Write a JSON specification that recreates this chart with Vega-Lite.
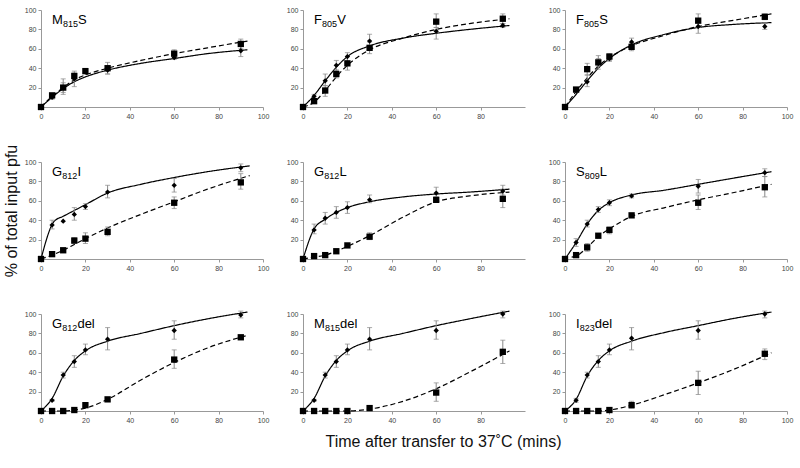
{
"$schema": "https://vega.github.io/schema/vega-lite/v6.json",
"background": "white",
"padding": {"left": 3, "top": 6, "right": 2, "bottom": 2},
"columns": 3,
"spacing": {"row": 55, "column": 40},
"bounds": "flush",
"datasets": {
"pts": [
{"p":1,"s":"A","t":0,"v":0},{"p":1,"s":"A","t":5,"v":10,"lo":8,"hi":12},{"p":1,"s":"A","t":10,"v":20,"lo":15,"hi":25},{"p":1,"s":"A","t":15,"v":29,"lo":21,"hi":35},{"p":1,"s":"A","t":20,"v":36},{"p":1,"s":"A","t":30,"v":38,"lo":34,"hi":42},{"p":1,"s":"A","t":60,"v":51,"lo":49,"hi":53},{"p":1,"s":"A","t":90,"v":58,"lo":52,"hi":63},
{"p":1,"s":"B","t":0,"v":0},{"p":1,"s":"B","t":5,"v":12,"lo":10,"hi":14},{"p":1,"s":"B","t":10,"v":20,"lo":13,"hi":29},{"p":1,"s":"B","t":15,"v":32,"lo":28,"hi":37},{"p":1,"s":"B","t":20,"v":37,"lo":35,"hi":39},{"p":1,"s":"B","t":30,"v":40,"lo":34,"hi":46},{"p":1,"s":"B","t":60,"v":55,"lo":52,"hi":59},{"p":1,"s":"B","t":90,"v":65,"lo":60,"hi":70},
{"p":2,"s":"A","t":0,"v":0},{"p":2,"s":"A","t":5,"v":11,"lo":9,"hi":13},{"p":2,"s":"A","t":10,"v":27,"lo":22,"hi":34},{"p":2,"s":"A","t":15,"v":43,"lo":38,"hi":48},{"p":2,"s":"A","t":20,"v":52,"lo":47,"hi":56},{"p":2,"s":"A","t":30,"v":68,"lo":62,"hi":75},{"p":2,"s":"A","t":60,"v":78,"lo":70,"hi":82},{"p":2,"s":"A","t":90,"v":84,"lo":82,"hi":86},
{"p":2,"s":"B","t":0,"v":0},{"p":2,"s":"B","t":5,"v":6,"lo":4,"hi":8},{"p":2,"s":"B","t":10,"v":17,"lo":11,"hi":22},{"p":2,"s":"B","t":15,"v":34,"lo":30,"hi":38},{"p":2,"s":"B","t":20,"v":45,"lo":38,"hi":52},{"p":2,"s":"B","t":30,"v":61,"lo":55,"hi":67},{"p":2,"s":"B","t":60,"v":88,"lo":82,"hi":96},{"p":2,"s":"B","t":90,"v":91,"lo":86,"hi":96},
{"p":3,"s":"A","t":0,"v":0},{"p":3,"s":"A","t":5,"v":17,"lo":15,"hi":19},{"p":3,"s":"A","t":10,"v":26,"lo":21,"hi":33},{"p":3,"s":"A","t":15,"v":45,"lo":39,"hi":50},{"p":3,"s":"A","t":20,"v":50,"lo":47,"hi":53},{"p":3,"s":"A","t":30,"v":67,"lo":63,"hi":71},{"p":3,"s":"A","t":60,"v":83,"lo":76,"hi":87},{"p":3,"s":"A","t":90,"v":83,"lo":80,"hi":87},
{"p":3,"s":"B","t":0,"v":0},{"p":3,"s":"B","t":5,"v":18,"lo":16,"hi":20},{"p":3,"s":"B","t":10,"v":39,"lo":33,"hi":45},{"p":3,"s":"B","t":15,"v":46,"lo":42,"hi":53},{"p":3,"s":"B","t":20,"v":52,"lo":48,"hi":55},{"p":3,"s":"B","t":30,"v":62,"lo":58,"hi":66},{"p":3,"s":"B","t":60,"v":89,"lo":82,"hi":96},{"p":3,"s":"B","t":90,"v":93,"lo":90,"hi":96},
{"p":4,"s":"A","t":0,"v":0},{"p":4,"s":"A","t":5,"v":35,"lo":31,"hi":40},{"p":4,"s":"A","t":10,"v":39},{"p":4,"s":"A","t":15,"v":46,"lo":40,"hi":53},{"p":4,"s":"A","t":20,"v":54,"lo":51,"hi":57},{"p":4,"s":"A","t":30,"v":69,"lo":63,"hi":76},{"p":4,"s":"A","t":60,"v":76,"lo":69,"hi":83},{"p":4,"s":"A","t":90,"v":94,"lo":90,"hi":98},
{"p":4,"s":"B","t":0,"v":0},{"p":4,"s":"B","t":5,"v":5},{"p":4,"s":"B","t":10,"v":9,"lo":8,"hi":11},{"p":4,"s":"B","t":15,"v":19,"lo":16,"hi":22},{"p":4,"s":"B","t":20,"v":21,"lo":16,"hi":27},{"p":4,"s":"B","t":30,"v":28,"lo":24,"hi":33},{"p":4,"s":"B","t":60,"v":58,"lo":52,"hi":64},{"p":4,"s":"B","t":90,"v":79,"lo":72,"hi":88},
{"p":5,"s":"A","t":0,"v":0},{"p":5,"s":"A","t":5,"v":30,"lo":26,"hi":36},{"p":5,"s":"A","t":10,"v":42,"lo":36,"hi":48},{"p":5,"s":"A","t":15,"v":48,"lo":42,"hi":54},{"p":5,"s":"A","t":20,"v":53,"lo":47,"hi":59},{"p":5,"s":"A","t":30,"v":61,"lo":58,"hi":66},{"p":5,"s":"A","t":60,"v":68,"lo":64,"hi":74},{"p":5,"s":"A","t":90,"v":70,"lo":66,"hi":76},
{"p":5,"s":"B","t":0,"v":0},{"p":5,"s":"B","t":5,"v":3},{"p":5,"s":"B","t":10,"v":4},{"p":5,"s":"B","t":15,"v":8,"lo":7,"hi":9},{"p":5,"s":"B","t":20,"v":14,"lo":13,"hi":15},{"p":5,"s":"B","t":30,"v":23,"lo":20,"hi":27},{"p":5,"s":"B","t":60,"v":61,"lo":59,"hi":63},{"p":5,"s":"B","t":90,"v":62,"lo":53,"hi":72},
{"p":6,"s":"A","t":0,"v":0},{"p":6,"s":"A","t":5,"v":17,"lo":13,"hi":21},{"p":6,"s":"A","t":10,"v":36,"lo":33,"hi":40},{"p":6,"s":"A","t":15,"v":51,"lo":48,"hi":54},{"p":6,"s":"A","t":20,"v":58,"lo":55,"hi":61},{"p":6,"s":"A","t":30,"v":65,"lo":63,"hi":67},{"p":6,"s":"A","t":60,"v":75,"lo":68,"hi":82},{"p":6,"s":"A","t":90,"v":89,"lo":85,"hi":93},
{"p":6,"s":"B","t":0,"v":0},{"p":6,"s":"B","t":5,"v":4},{"p":6,"s":"B","t":10,"v":12,"lo":8,"hi":16},{"p":6,"s":"B","t":15,"v":24,"lo":22,"hi":26},{"p":6,"s":"B","t":20,"v":30,"lo":26,"hi":33},{"p":6,"s":"B","t":30,"v":45,"lo":43,"hi":47},{"p":6,"s":"B","t":60,"v":58,"lo":51,"hi":66},{"p":6,"s":"B","t":90,"v":74,"lo":64,"hi":85},
{"p":7,"s":"A","t":0,"v":0},{"p":7,"s":"A","t":5,"v":11,"lo":10,"hi":12},{"p":7,"s":"A","t":10,"v":37,"lo":34,"hi":40},{"p":7,"s":"A","t":15,"v":51,"lo":45,"hi":57},{"p":7,"s":"A","t":20,"v":63,"lo":58,"hi":69},{"p":7,"s":"A","t":30,"v":74,"lo":63,"hi":86},{"p":7,"s":"A","t":60,"v":83,"lo":74,"hi":93},{"p":7,"s":"A","t":90,"v":99,"lo":96,"hi":103},
{"p":7,"s":"B","t":0,"v":0},{"p":7,"s":"B","t":5,"v":0},{"p":7,"s":"B","t":10,"v":0},{"p":7,"s":"B","t":15,"v":1},{"p":7,"s":"B","t":20,"v":6},{"p":7,"s":"B","t":30,"v":12},{"p":7,"s":"B","t":60,"v":53,"lo":44,"hi":63},{"p":7,"s":"B","t":90,"v":76,"lo":74,"hi":78},
{"p":8,"s":"A","t":0,"v":0},{"p":8,"s":"A","t":5,"v":11,"lo":10,"hi":12},{"p":8,"s":"A","t":10,"v":37,"lo":34,"hi":40},{"p":8,"s":"A","t":15,"v":51,"lo":45,"hi":57},{"p":8,"s":"A","t":20,"v":63,"lo":58,"hi":69},{"p":8,"s":"A","t":30,"v":74,"lo":63,"hi":86},{"p":8,"s":"A","t":60,"v":83,"lo":74,"hi":93},{"p":8,"s":"A","t":90,"v":100,"lo":96,"hi":103},
{"p":8,"s":"B","t":0,"v":0},{"p":8,"s":"B","t":5,"v":0},{"p":8,"s":"B","t":10,"v":0},{"p":8,"s":"B","t":15,"v":0},{"p":8,"s":"B","t":20,"v":0},{"p":8,"s":"B","t":30,"v":3,"lo":2,"hi":4},{"p":8,"s":"B","t":60,"v":19,"lo":10,"hi":29},{"p":8,"s":"B","t":90,"v":61,"lo":49,"hi":73},
{"p":9,"s":"A","t":0,"v":0},{"p":9,"s":"A","t":5,"v":11,"lo":9,"hi":13},{"p":9,"s":"A","t":10,"v":37,"lo":34,"hi":40},{"p":9,"s":"A","t":15,"v":51,"lo":45,"hi":57},{"p":9,"s":"A","t":20,"v":63,"lo":58,"hi":69},{"p":9,"s":"A","t":30,"v":75,"lo":63,"hi":86},{"p":9,"s":"A","t":60,"v":83,"lo":74,"hi":93},{"p":9,"s":"A","t":90,"v":100,"lo":96,"hi":103},
{"p":9,"s":"B","t":0,"v":0},{"p":9,"s":"B","t":5,"v":0},{"p":9,"s":"B","t":10,"v":0},{"p":9,"s":"B","t":15,"v":0},{"p":9,"s":"B","t":20,"v":1},{"p":9,"s":"B","t":30,"v":6,"lo":3,"hi":10},{"p":9,"s":"B","t":60,"v":29,"lo":17,"hi":41},{"p":9,"s":"B","t":90,"v":59,"lo":53,"hi":64}
],
"fit": [
{"p":1,"s":"A","t":0,"v":0},{"p":1,"s":"A","t":5,"v":10},{"p":1,"s":"A","t":10,"v":19},{"p":1,"s":"A","t":15,"v":26},{"p":1,"s":"A","t":20,"v":31},{"p":1,"s":"A","t":30,"v":38},{"p":1,"s":"A","t":45,"v":45},{"p":1,"s":"A","t":60,"v":50},{"p":1,"s":"A","t":75,"v":55},{"p":1,"s":"A","t":93,"v":59},
{"p":1,"s":"B","t":0,"v":0},{"p":1,"s":"B","t":5,"v":11},{"p":1,"s":"B","t":10,"v":20},{"p":1,"s":"B","t":15,"v":28},{"p":1,"s":"B","t":20,"v":33},{"p":1,"s":"B","t":30,"v":40},{"p":1,"s":"B","t":45,"v":48},{"p":1,"s":"B","t":60,"v":55},{"p":1,"s":"B","t":75,"v":61},{"p":1,"s":"B","t":93,"v":68},
{"p":2,"s":"A","t":0,"v":0},{"p":2,"s":"A","t":5,"v":12},{"p":2,"s":"A","t":10,"v":27},{"p":2,"s":"A","t":15,"v":41},{"p":2,"s":"A","t":20,"v":52},{"p":2,"s":"A","t":30,"v":63},{"p":2,"s":"A","t":45,"v":71},{"p":2,"s":"A","t":60,"v":76},{"p":2,"s":"A","t":75,"v":80},{"p":2,"s":"A","t":93,"v":84},
{"p":2,"s":"B","t":0,"v":0},{"p":2,"s":"B","t":5,"v":5},{"p":2,"s":"B","t":10,"v":17},{"p":2,"s":"B","t":15,"v":31},{"p":2,"s":"B","t":20,"v":43},{"p":2,"s":"B","t":30,"v":59},{"p":2,"s":"B","t":45,"v":71},{"p":2,"s":"B","t":60,"v":80},{"p":2,"s":"B","t":75,"v":86},{"p":2,"s":"B","t":93,"v":91},
{"p":3,"s":"A","t":0,"v":0},{"p":3,"s":"A","t":5,"v":13},{"p":3,"s":"A","t":10,"v":27},{"p":3,"s":"A","t":15,"v":40},{"p":3,"s":"A","t":20,"v":50},{"p":3,"s":"A","t":30,"v":64},{"p":3,"s":"A","t":45,"v":75},{"p":3,"s":"A","t":60,"v":82},{"p":3,"s":"A","t":75,"v":85},{"p":3,"s":"A","t":93,"v":87},
{"p":3,"s":"B","t":0,"v":0},{"p":3,"s":"B","t":5,"v":16},{"p":3,"s":"B","t":10,"v":30},{"p":3,"s":"B","t":15,"v":42},{"p":3,"s":"B","t":20,"v":51},{"p":3,"s":"B","t":30,"v":63},{"p":3,"s":"B","t":45,"v":74},{"p":3,"s":"B","t":60,"v":83},{"p":3,"s":"B","t":75,"v":89},{"p":3,"s":"B","t":93,"v":96},
{"p":4,"s":"A","t":0,"v":0},{"p":4,"s":"A","t":6,"v":39},{"p":4,"s":"A","t":10,"v":44},{"p":4,"s":"A","t":15,"v":50},{"p":4,"s":"A","t":20,"v":56},{"p":4,"s":"A","t":30,"v":68},{"p":4,"s":"A","t":45,"v":77},{"p":4,"s":"A","t":60,"v":84},{"p":4,"s":"A","t":75,"v":90},{"p":4,"s":"A","t":94,"v":96},
{"p":4,"s":"B","t":0,"v":0},{"p":4,"s":"B","t":5,"v":4},{"p":4,"s":"B","t":10,"v":9},{"p":4,"s":"B","t":15,"v":15},{"p":4,"s":"B","t":20,"v":21},{"p":4,"s":"B","t":30,"v":32},{"p":4,"s":"B","t":45,"v":46},{"p":4,"s":"B","t":60,"v":59},{"p":4,"s":"B","t":75,"v":72},{"p":4,"s":"B","t":94,"v":86},
{"p":5,"s":"A","t":0,"v":0},{"p":5,"s":"A","t":5,"v":31},{"p":5,"s":"A","t":10,"v":41},{"p":5,"s":"A","t":15,"v":48},{"p":5,"s":"A","t":20,"v":53},{"p":5,"s":"A","t":30,"v":59},{"p":5,"s":"A","t":45,"v":64},{"p":5,"s":"A","t":60,"v":67},{"p":5,"s":"A","t":75,"v":69},{"p":5,"s":"A","t":93,"v":72},
{"p":5,"s":"B","t":0,"v":0},{"p":5,"s":"B","t":5,"v":2},{"p":5,"s":"B","t":10,"v":4},{"p":5,"s":"B","t":15,"v":8},{"p":5,"s":"B","t":20,"v":13},{"p":5,"s":"B","t":30,"v":24},{"p":5,"s":"B","t":45,"v":43},{"p":5,"s":"B","t":60,"v":59},{"p":5,"s":"B","t":75,"v":65},{"p":5,"s":"B","t":93,"v":69},
{"p":6,"s":"A","t":0,"v":0},{"p":6,"s":"A","t":5,"v":17},{"p":6,"s":"A","t":10,"v":36},{"p":6,"s":"A","t":15,"v":50},{"p":6,"s":"A","t":20,"v":58},{"p":6,"s":"A","t":30,"v":66},{"p":6,"s":"A","t":45,"v":71},{"p":6,"s":"A","t":60,"v":77},{"p":6,"s":"A","t":75,"v":83},{"p":6,"s":"A","t":93,"v":90},
{"p":6,"s":"B","t":3,"v":2},{"p":6,"s":"B","t":5,"v":3},{"p":6,"s":"B","t":10,"v":12},{"p":6,"s":"B","t":15,"v":23},{"p":6,"s":"B","t":20,"v":31},{"p":6,"s":"B","t":30,"v":44},{"p":6,"s":"B","t":45,"v":53},{"p":6,"s":"B","t":60,"v":61},{"p":6,"s":"B","t":75,"v":68},{"p":6,"s":"B","t":93,"v":77},
{"p":7,"s":"A","t":0,"v":0},{"p":7,"s":"A","t":5,"v":13},{"p":7,"s":"A","t":10,"v":36},{"p":7,"s":"A","t":15,"v":52},{"p":7,"s":"A","t":20,"v":62},{"p":7,"s":"A","t":30,"v":72},{"p":7,"s":"A","t":45,"v":80},{"p":7,"s":"A","t":60,"v":88},{"p":7,"s":"A","t":75,"v":95},{"p":7,"s":"A","t":93,"v":102},
{"p":7,"s":"B","t":0,"v":0},{"p":7,"s":"B","t":5,"v":0},{"p":7,"s":"B","t":10,"v":0},{"p":7,"s":"B","t":15,"v":1},{"p":7,"s":"B","t":20,"v":3},{"p":7,"s":"B","t":30,"v":12},{"p":7,"s":"B","t":45,"v":32},{"p":7,"s":"B","t":60,"v":50},{"p":7,"s":"B","t":75,"v":65},{"p":7,"s":"B","t":93,"v":78},
{"p":8,"s":"A","t":0,"v":0},{"p":8,"s":"A","t":5,"v":13},{"p":8,"s":"A","t":10,"v":36},{"p":8,"s":"A","t":15,"v":52},{"p":8,"s":"A","t":20,"v":62},{"p":8,"s":"A","t":30,"v":72},{"p":8,"s":"A","t":45,"v":80},{"p":8,"s":"A","t":60,"v":88},{"p":8,"s":"A","t":75,"v":95},{"p":8,"s":"A","t":93,"v":103},
{"p":8,"s":"B","t":0,"v":0},{"p":8,"s":"B","t":5,"v":0},{"p":8,"s":"B","t":10,"v":0},{"p":8,"s":"B","t":15,"v":0},{"p":8,"s":"B","t":20,"v":0},{"p":8,"s":"B","t":30,"v":2},{"p":8,"s":"B","t":45,"v":10},{"p":8,"s":"B","t":60,"v":23},{"p":8,"s":"B","t":75,"v":40},{"p":8,"s":"B","t":93,"v":62},
{"p":9,"s":"A","t":0,"v":0},{"p":9,"s":"A","t":5,"v":12},{"p":9,"s":"A","t":10,"v":36},{"p":9,"s":"A","t":15,"v":52},{"p":9,"s":"A","t":20,"v":62},{"p":9,"s":"A","t":30,"v":72},{"p":9,"s":"A","t":45,"v":81},{"p":9,"s":"A","t":60,"v":88},{"p":9,"s":"A","t":75,"v":95},{"p":9,"s":"A","t":93,"v":102},
{"p":9,"s":"B","t":0,"v":0},{"p":9,"s":"B","t":5,"v":0},{"p":9,"s":"B","t":10,"v":0},{"p":9,"s":"B","t":15,"v":0},{"p":9,"s":"B","t":20,"v":1},{"p":9,"s":"B","t":30,"v":6},{"p":9,"s":"B","t":45,"v":17},{"p":9,"s":"B","t":60,"v":29},{"p":9,"s":"B","t":75,"v":42},{"p":9,"s":"B","t":93,"v":60}
],
"lab": [
{"p":1,"a":"M","b":"815","c":"S"},{"p":2,"a":"F","b":"805","c":"V"},{"p":3,"a":"F","b":"805","c":"S"},
{"p":4,"a":"G","b":"812","c":"I"},{"p":5,"a":"G","b":"812","c":"L"},{"p":6,"a":"S","b":"809","c":"L"},
{"p":7,"a":"G","b":"812","c":"del"},{"p":8,"a":"M","b":"815","c":"del"},{"p":9,"a":"I","b":"823","c":"del"}
]
},
"concat": [
{"width":222,"height":97,"layer":[
{"data":{"name":"fit"},"transform":[{"filter":"datum.p==1"}],"mark":{"type":"line","color":"black","strokeWidth":1.2,"interpolate":"monotone"},"encoding":{"x":{"field":"t","type":"quantitative","title":null,"scale":{"domain":[0,100],"nice":false},"axis":{"values":[0,20,40,60,80,100],"tickCount":10}},"y":{"field":"v","type":"quantitative","title":null,"scale":{"domain":[0,100],"nice":false},"axis":{"values":[20,40,60,80,100],"tickCount":10}},"strokeDash":{"field":"s","type":"nominal","scale":{"domain":["A","B"],"range":[[1,0],[5,3]]},"legend":null}}},
{"data":{"name":"pts"},"transform":[{"filter":"datum.p==1 && isValid(datum.lo)"}],"mark":{"type":"errorbar","ticks":true,"color":"#888"},"encoding":{"x":{"field":"t","type":"quantitative","title":null},"y":{"field":"lo","type":"quantitative","title":null,"scale":{"domain":[0,100],"nice":false}},"y2":{"field":"hi"}}},
{"data":{"name":"pts"},"transform":[{"filter":"datum.p==1"}],"mark":{"type":"point","filled":true,"opacity":1,"color":"black"},"encoding":{"x":{"field":"t","type":"quantitative","title":null},"y":{"field":"v","type":"quantitative","title":null,"scale":{"domain":[0,100],"nice":false}},"shape":{"field":"s","type":"nominal","scale":{"domain":["A","B"],"range":["diamond","square"]},"legend":null},"size":{"field":"s","type":"nominal","scale":{"domain":["A","B"],"range":[28,40]},"legend":null}}},
{"data":{"name":"lab"},"transform":[{"filter":"datum.p==1"}],"mark":{"type":"text","align":"left","baseline":"alphabetic","fontSize":13},"encoding":{"x":{"datum":5},"y":{"datum":86},"text":{"field":"a"}}},
{"data":{"name":"lab"},"transform":[{"filter":"datum.p==1"}],"mark":{"type":"text","align":"left","baseline":"alphabetic","fontSize":9},"encoding":{"x":{"datum":9.9},"y":{"datum":82},"text":{"field":"b"}}},
{"data":{"name":"lab"},"transform":[{"filter":"datum.p==1"}],"mark":{"type":"text","align":"left","baseline":"alphabetic","fontSize":13},"encoding":{"x":{"datum":16.7},"y":{"datum":86},"text":{"field":"c"}}}
]},
{"width":222,"height":97,"layer":[
{"data":{"name":"fit"},"transform":[{"filter":"datum.p==2"}],"mark":{"type":"line","color":"black","strokeWidth":1.2,"interpolate":"monotone"},"encoding":{"x":{"field":"t","type":"quantitative","title":null,"scale":{"domain":[0,100],"nice":false},"axis":{"values":[0,20,40,60,80],"tickCount":10}},"y":{"field":"v","type":"quantitative","title":null,"scale":{"domain":[0,100],"nice":false},"axis":{"values":[20,40,60,80,100],"tickCount":10}},"strokeDash":{"field":"s","type":"nominal","scale":{"domain":["A","B"],"range":[[1,0],[5,3]]},"legend":null}}},
{"data":{"name":"pts"},"transform":[{"filter":"datum.p==2 && isValid(datum.lo)"}],"mark":{"type":"errorbar","ticks":true,"color":"#888"},"encoding":{"x":{"field":"t","type":"quantitative","title":null},"y":{"field":"lo","type":"quantitative","title":null,"scale":{"domain":[0,100],"nice":false}},"y2":{"field":"hi"}}},
{"data":{"name":"pts"},"transform":[{"filter":"datum.p==2"}],"mark":{"type":"point","filled":true,"opacity":1,"color":"black"},"encoding":{"x":{"field":"t","type":"quantitative","title":null},"y":{"field":"v","type":"quantitative","title":null,"scale":{"domain":[0,100],"nice":false}},"shape":{"field":"s","type":"nominal","scale":{"domain":["A","B"],"range":["diamond","square"]},"legend":null},"size":{"field":"s","type":"nominal","scale":{"domain":["A","B"],"range":[28,40]},"legend":null}}},
{"data":{"name":"lab"},"transform":[{"filter":"datum.p==2"}],"mark":{"type":"text","align":"left","baseline":"alphabetic","fontSize":13},"encoding":{"x":{"datum":5},"y":{"datum":86},"text":{"field":"a"}}},
{"data":{"name":"lab"},"transform":[{"filter":"datum.p==2"}],"mark":{"type":"text","align":"left","baseline":"alphabetic","fontSize":9},"encoding":{"x":{"datum":8.6},"y":{"datum":82},"text":{"field":"b"}}},
{"data":{"name":"lab"},"transform":[{"filter":"datum.p==2"}],"mark":{"type":"text","align":"left","baseline":"alphabetic","fontSize":13},"encoding":{"x":{"datum":15.4},"y":{"datum":86},"text":{"field":"c"}}}
]},
{"width":222,"height":97,"layer":[
{"data":{"name":"fit"},"transform":[{"filter":"datum.p==3"}],"mark":{"type":"line","color":"black","strokeWidth":1.2,"interpolate":"monotone"},"encoding":{"x":{"field":"t","type":"quantitative","title":null,"scale":{"domain":[0,100],"nice":false},"axis":{"values":[0,20,40,60,80,100],"tickCount":10}},"y":{"field":"v","type":"quantitative","title":null,"scale":{"domain":[0,100],"nice":false},"axis":{"values":[20,40,60,80,100],"tickCount":10}},"strokeDash":{"field":"s","type":"nominal","scale":{"domain":["A","B"],"range":[[1,0],[5,3]]},"legend":null}}},
{"data":{"name":"pts"},"transform":[{"filter":"datum.p==3 && isValid(datum.lo)"}],"mark":{"type":"errorbar","ticks":true,"color":"#888"},"encoding":{"x":{"field":"t","type":"quantitative","title":null},"y":{"field":"lo","type":"quantitative","title":null,"scale":{"domain":[0,100],"nice":false}},"y2":{"field":"hi"}}},
{"data":{"name":"pts"},"transform":[{"filter":"datum.p==3"}],"mark":{"type":"point","filled":true,"opacity":1,"color":"black"},"encoding":{"x":{"field":"t","type":"quantitative","title":null},"y":{"field":"v","type":"quantitative","title":null,"scale":{"domain":[0,100],"nice":false}},"shape":{"field":"s","type":"nominal","scale":{"domain":["A","B"],"range":["diamond","square"]},"legend":null},"size":{"field":"s","type":"nominal","scale":{"domain":["A","B"],"range":[28,40]},"legend":null}}},
{"data":{"name":"lab"},"transform":[{"filter":"datum.p==3"}],"mark":{"type":"text","align":"left","baseline":"alphabetic","fontSize":13},"encoding":{"x":{"datum":5},"y":{"datum":86},"text":{"field":"a"}}},
{"data":{"name":"lab"},"transform":[{"filter":"datum.p==3"}],"mark":{"type":"text","align":"left","baseline":"alphabetic","fontSize":9},"encoding":{"x":{"datum":8.6},"y":{"datum":82},"text":{"field":"b"}}},
{"data":{"name":"lab"},"transform":[{"filter":"datum.p==3"}],"mark":{"type":"text","align":"left","baseline":"alphabetic","fontSize":13},"encoding":{"x":{"datum":15.4},"y":{"datum":86},"text":{"field":"c"}}}
]},
{"width":222,"height":97,"layer":[
{"data":{"name":"fit"},"transform":[{"filter":"datum.p==4"}],"mark":{"type":"line","color":"black","strokeWidth":1.2,"interpolate":"monotone"},"encoding":{"x":{"field":"t","type":"quantitative","title":null,"scale":{"domain":[0,100],"nice":false},"axis":{"values":[0,20,40,60,80,100],"tickCount":10}},"y":{"field":"v","type":"quantitative","title":"% of total input pfu","scale":{"domain":[0,100],"nice":false},"axis":{"values":[20,40,60,80,100],"tickCount":10,"titlePadding":5}},"strokeDash":{"field":"s","type":"nominal","scale":{"domain":["A","B"],"range":[[1,0],[5,3]]},"legend":null}}},
{"data":{"name":"pts"},"transform":[{"filter":"datum.p==4 && isValid(datum.lo)"}],"mark":{"type":"errorbar","ticks":true,"color":"#888"},"encoding":{"x":{"field":"t","type":"quantitative","title":null},"y":{"field":"lo","type":"quantitative","title":"% of total input pfu","scale":{"domain":[0,100],"nice":false}},"y2":{"field":"hi"}}},
{"data":{"name":"pts"},"transform":[{"filter":"datum.p==4"}],"mark":{"type":"point","filled":true,"opacity":1,"color":"black"},"encoding":{"x":{"field":"t","type":"quantitative","title":null},"y":{"field":"v","type":"quantitative","title":"% of total input pfu","scale":{"domain":[0,100],"nice":false}},"shape":{"field":"s","type":"nominal","scale":{"domain":["A","B"],"range":["diamond","square"]},"legend":null},"size":{"field":"s","type":"nominal","scale":{"domain":["A","B"],"range":[28,40]},"legend":null}}},
{"data":{"name":"lab"},"transform":[{"filter":"datum.p==4"}],"mark":{"type":"text","align":"left","baseline":"alphabetic","fontSize":13},"encoding":{"x":{"datum":5},"y":{"datum":86},"text":{"field":"a"}}},
{"data":{"name":"lab"},"transform":[{"filter":"datum.p==4"}],"mark":{"type":"text","align":"left","baseline":"alphabetic","fontSize":9},"encoding":{"x":{"datum":9.6},"y":{"datum":82},"text":{"field":"b"}}},
{"data":{"name":"lab"},"transform":[{"filter":"datum.p==4"}],"mark":{"type":"text","align":"left","baseline":"alphabetic","fontSize":13},"encoding":{"x":{"datum":16.4},"y":{"datum":86},"text":{"field":"c"}}}
]},
{"width":222,"height":97,"layer":[
{"data":{"name":"fit"},"transform":[{"filter":"datum.p==5"}],"mark":{"type":"line","color":"black","strokeWidth":1.2,"interpolate":"monotone"},"encoding":{"x":{"field":"t","type":"quantitative","title":null,"scale":{"domain":[0,100],"nice":false},"axis":{"values":[0,20,40,60,80],"tickCount":10}},"y":{"field":"v","type":"quantitative","title":null,"scale":{"domain":[0,100],"nice":false},"axis":{"values":[20,40,60,80,100],"tickCount":10}},"strokeDash":{"field":"s","type":"nominal","scale":{"domain":["A","B"],"range":[[1,0],[5,3]]},"legend":null}}},
{"data":{"name":"pts"},"transform":[{"filter":"datum.p==5 && isValid(datum.lo)"}],"mark":{"type":"errorbar","ticks":true,"color":"#888"},"encoding":{"x":{"field":"t","type":"quantitative","title":null},"y":{"field":"lo","type":"quantitative","title":null,"scale":{"domain":[0,100],"nice":false}},"y2":{"field":"hi"}}},
{"data":{"name":"pts"},"transform":[{"filter":"datum.p==5"}],"mark":{"type":"point","filled":true,"opacity":1,"color":"black"},"encoding":{"x":{"field":"t","type":"quantitative","title":null},"y":{"field":"v","type":"quantitative","title":null,"scale":{"domain":[0,100],"nice":false}},"shape":{"field":"s","type":"nominal","scale":{"domain":["A","B"],"range":["diamond","square"]},"legend":null},"size":{"field":"s","type":"nominal","scale":{"domain":["A","B"],"range":[28,40]},"legend":null}}},
{"data":{"name":"lab"},"transform":[{"filter":"datum.p==5"}],"mark":{"type":"text","align":"left","baseline":"alphabetic","fontSize":13},"encoding":{"x":{"datum":5},"y":{"datum":86},"text":{"field":"a"}}},
{"data":{"name":"lab"},"transform":[{"filter":"datum.p==5"}],"mark":{"type":"text","align":"left","baseline":"alphabetic","fontSize":9},"encoding":{"x":{"datum":9.6},"y":{"datum":82},"text":{"field":"b"}}},
{"data":{"name":"lab"},"transform":[{"filter":"datum.p==5"}],"mark":{"type":"text","align":"left","baseline":"alphabetic","fontSize":13},"encoding":{"x":{"datum":16.4},"y":{"datum":86},"text":{"field":"c"}}}
]},
{"width":222,"height":97,"layer":[
{"data":{"name":"fit"},"transform":[{"filter":"datum.p==6"}],"mark":{"type":"line","color":"black","strokeWidth":1.2,"interpolate":"monotone"},"encoding":{"x":{"field":"t","type":"quantitative","title":null,"scale":{"domain":[0,100],"nice":false},"axis":{"values":[0,20,40,60,80,100],"tickCount":10}},"y":{"field":"v","type":"quantitative","title":null,"scale":{"domain":[0,100],"nice":false},"axis":{"values":[20,40,60,80,100],"tickCount":10}},"strokeDash":{"field":"s","type":"nominal","scale":{"domain":["A","B"],"range":[[1,0],[5,3]]},"legend":null}}},
{"data":{"name":"pts"},"transform":[{"filter":"datum.p==6 && isValid(datum.lo)"}],"mark":{"type":"errorbar","ticks":true,"color":"#888"},"encoding":{"x":{"field":"t","type":"quantitative","title":null},"y":{"field":"lo","type":"quantitative","title":null,"scale":{"domain":[0,100],"nice":false}},"y2":{"field":"hi"}}},
{"data":{"name":"pts"},"transform":[{"filter":"datum.p==6"}],"mark":{"type":"point","filled":true,"opacity":1,"color":"black"},"encoding":{"x":{"field":"t","type":"quantitative","title":null},"y":{"field":"v","type":"quantitative","title":null,"scale":{"domain":[0,100],"nice":false}},"shape":{"field":"s","type":"nominal","scale":{"domain":["A","B"],"range":["diamond","square"]},"legend":null},"size":{"field":"s","type":"nominal","scale":{"domain":["A","B"],"range":[28,40]},"legend":null}}},
{"data":{"name":"lab"},"transform":[{"filter":"datum.p==6"}],"mark":{"type":"text","align":"left","baseline":"alphabetic","fontSize":13},"encoding":{"x":{"datum":5},"y":{"datum":86},"text":{"field":"a"}}},
{"data":{"name":"lab"},"transform":[{"filter":"datum.p==6"}],"mark":{"type":"text","align":"left","baseline":"alphabetic","fontSize":9},"encoding":{"x":{"datum":8.9},"y":{"datum":82},"text":{"field":"b"}}},
{"data":{"name":"lab"},"transform":[{"filter":"datum.p==6"}],"mark":{"type":"text","align":"left","baseline":"alphabetic","fontSize":13},"encoding":{"x":{"datum":15.7},"y":{"datum":86},"text":{"field":"c"}}}
]},
{"width":222,"height":97,"layer":[
{"data":{"name":"fit"},"transform":[{"filter":"datum.p==7"}],"mark":{"type":"line","color":"black","strokeWidth":1.2,"interpolate":"monotone"},"encoding":{"x":{"field":"t","type":"quantitative","title":null,"scale":{"domain":[0,100],"nice":false},"axis":{"values":[0,20,40,60,80,100],"tickCount":10}},"y":{"field":"v","type":"quantitative","title":null,"scale":{"domain":[0,100],"nice":false},"axis":{"values":[20,40,60,80,100],"tickCount":10}},"strokeDash":{"field":"s","type":"nominal","scale":{"domain":["A","B"],"range":[[1,0],[5,3]]},"legend":null}}},
{"data":{"name":"pts"},"transform":[{"filter":"datum.p==7 && isValid(datum.lo)"}],"mark":{"type":"errorbar","ticks":true,"color":"#888"},"encoding":{"x":{"field":"t","type":"quantitative","title":null},"y":{"field":"lo","type":"quantitative","title":null,"scale":{"domain":[0,100],"nice":false}},"y2":{"field":"hi"}}},
{"data":{"name":"pts"},"transform":[{"filter":"datum.p==7"}],"mark":{"type":"point","filled":true,"opacity":1,"color":"black"},"encoding":{"x":{"field":"t","type":"quantitative","title":null},"y":{"field":"v","type":"quantitative","title":null,"scale":{"domain":[0,100],"nice":false}},"shape":{"field":"s","type":"nominal","scale":{"domain":["A","B"],"range":["diamond","square"]},"legend":null},"size":{"field":"s","type":"nominal","scale":{"domain":["A","B"],"range":[28,40]},"legend":null}}},
{"data":{"name":"lab"},"transform":[{"filter":"datum.p==7"}],"mark":{"type":"text","align":"left","baseline":"alphabetic","fontSize":13},"encoding":{"x":{"datum":5},"y":{"datum":86},"text":{"field":"a"}}},
{"data":{"name":"lab"},"transform":[{"filter":"datum.p==7"}],"mark":{"type":"text","align":"left","baseline":"alphabetic","fontSize":9},"encoding":{"x":{"datum":9.6},"y":{"datum":82},"text":{"field":"b"}}},
{"data":{"name":"lab"},"transform":[{"filter":"datum.p==7"}],"mark":{"type":"text","align":"left","baseline":"alphabetic","fontSize":13},"encoding":{"x":{"datum":16.4},"y":{"datum":86},"text":{"field":"c"}}}
]},
{"width":222,"height":97,"layer":[
{"data":{"name":"fit"},"transform":[{"filter":"datum.p==8"}],"mark":{"type":"line","color":"black","strokeWidth":1.2,"interpolate":"monotone"},"encoding":{"x":{"field":"t","type":"quantitative","title":"Time after transfer to 37˚C (mins)","scale":{"domain":[0,100],"nice":false},"axis":{"values":[0,20,40,60,80],"tickCount":10,"titleX":140,"titlePadding":10}},"y":{"field":"v","type":"quantitative","title":null,"scale":{"domain":[0,100],"nice":false},"axis":{"values":[20,40,60,80,100],"tickCount":10}},"strokeDash":{"field":"s","type":"nominal","scale":{"domain":["A","B"],"range":[[1,0],[5,3]]},"legend":null}}},
{"data":{"name":"pts"},"transform":[{"filter":"datum.p==8 && isValid(datum.lo)"}],"mark":{"type":"errorbar","ticks":true,"color":"#888"},"encoding":{"x":{"field":"t","type":"quantitative","title":"Time after transfer to 37˚C (mins)"},"y":{"field":"lo","type":"quantitative","title":null,"scale":{"domain":[0,100],"nice":false}},"y2":{"field":"hi"}}},
{"data":{"name":"pts"},"transform":[{"filter":"datum.p==8"}],"mark":{"type":"point","filled":true,"opacity":1,"color":"black"},"encoding":{"x":{"field":"t","type":"quantitative","title":"Time after transfer to 37˚C (mins)"},"y":{"field":"v","type":"quantitative","title":null,"scale":{"domain":[0,100],"nice":false}},"shape":{"field":"s","type":"nominal","scale":{"domain":["A","B"],"range":["diamond","square"]},"legend":null},"size":{"field":"s","type":"nominal","scale":{"domain":["A","B"],"range":[28,40]},"legend":null}}},
{"data":{"name":"lab"},"transform":[{"filter":"datum.p==8"}],"mark":{"type":"text","align":"left","baseline":"alphabetic","fontSize":13},"encoding":{"x":{"datum":5},"y":{"datum":86},"text":{"field":"a"}}},
{"data":{"name":"lab"},"transform":[{"filter":"datum.p==8"}],"mark":{"type":"text","align":"left","baseline":"alphabetic","fontSize":9},"encoding":{"x":{"datum":9.9},"y":{"datum":82},"text":{"field":"b"}}},
{"data":{"name":"lab"},"transform":[{"filter":"datum.p==8"}],"mark":{"type":"text","align":"left","baseline":"alphabetic","fontSize":13},"encoding":{"x":{"datum":16.7},"y":{"datum":86},"text":{"field":"c"}}}
]},
{"width":222,"height":97,"layer":[
{"data":{"name":"fit"},"transform":[{"filter":"datum.p==9"}],"mark":{"type":"line","color":"black","strokeWidth":1.2,"interpolate":"monotone"},"encoding":{"x":{"field":"t","type":"quantitative","title":null,"scale":{"domain":[0,100],"nice":false},"axis":{"values":[0,20,40,60,80,100],"tickCount":10}},"y":{"field":"v","type":"quantitative","title":null,"scale":{"domain":[0,100],"nice":false},"axis":{"values":[20,40,60,80,100],"tickCount":10}},"strokeDash":{"field":"s","type":"nominal","scale":{"domain":["A","B"],"range":[[1,0],[5,3]]},"legend":null}}},
{"data":{"name":"pts"},"transform":[{"filter":"datum.p==9 && isValid(datum.lo)"}],"mark":{"type":"errorbar","ticks":true,"color":"#888"},"encoding":{"x":{"field":"t","type":"quantitative","title":null},"y":{"field":"lo","type":"quantitative","title":null,"scale":{"domain":[0,100],"nice":false}},"y2":{"field":"hi"}}},
{"data":{"name":"pts"},"transform":[{"filter":"datum.p==9"}],"mark":{"type":"point","filled":true,"opacity":1,"color":"black"},"encoding":{"x":{"field":"t","type":"quantitative","title":null},"y":{"field":"v","type":"quantitative","title":null,"scale":{"domain":[0,100],"nice":false}},"shape":{"field":"s","type":"nominal","scale":{"domain":["A","B"],"range":["diamond","square"]},"legend":null},"size":{"field":"s","type":"nominal","scale":{"domain":["A","B"],"range":[28,40]},"legend":null}}},
{"data":{"name":"lab"},"transform":[{"filter":"datum.p==9"}],"mark":{"type":"text","align":"left","baseline":"alphabetic","fontSize":13},"encoding":{"x":{"datum":5},"y":{"datum":86},"text":{"field":"a"}}},
{"data":{"name":"lab"},"transform":[{"filter":"datum.p==9"}],"mark":{"type":"text","align":"left","baseline":"alphabetic","fontSize":9},"encoding":{"x":{"datum":6.6},"y":{"datum":82},"text":{"field":"b"}}},
{"data":{"name":"lab"},"transform":[{"filter":"datum.p==9"}],"mark":{"type":"text","align":"left","baseline":"alphabetic","fontSize":13},"encoding":{"x":{"datum":13.4},"y":{"datum":86},"text":{"field":"c"}}}
]}
],
"config": {
"view": {"stroke": null},
"font": "Liberation Sans",
"text": {"font": "Liberation Sans", "color": "black"},
"axis": {"grid": false, "labelFontSize": 7, "labelColor": "#444", "labelFlush": false, "labelOverlap": false, "domainColor": "#999", "tickColor": "#999", "tickSize": 3, "labelPadding": 2, "titleColor": "#111", "titleFontWeight": "normal", "titleFontSize": 16, "titleFont": "Liberation Sans"}
}
}
